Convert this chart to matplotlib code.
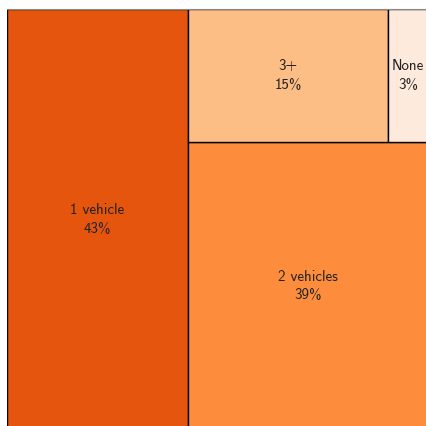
import matplotlib
matplotlib.use("Agg")
import matplotlib.pyplot as plt
from matplotlib.patches import Rectangle

labels = ["1 vehicle", "2 vehicles", "3+", "None"]
values = [43, 39, 15, 3]
colors = ["#e6550d", "#fd8d3c", "#fdbe85", "#feeadc"]

fig = plt.figure(figsize=(4.27, 4.26), dpi=100)
ax = fig.add_axes([7/427, -4/426, 421/427, 421/426])
ax.set_xlim(0, 1)
ax.set_ylim(0, 1)
for s in ["left", "right", "bottom"]:
    ax.spines[s].set_visible(False)
ax.spines["top"].set_color("#888888")
ax.set_xticks([])
ax.set_yticks([])

total = sum(values)
# layout: first item is a full-height column, remaining split into top row and bottom block
w0 = values[0] / total
rest = total - values[0]
top = values[2] + values[3]
h_top = top / rest
rects = []
rects.append((0, 0, w0, 1))
rects.append((w0, 0, 1 - w0, 1 - h_top))
w2 = (1 - w0) * values[2] / top
rects.append((w0, 1 - h_top, w2, h_top))
rects.append((w0 + w2, 1 - h_top, (1 - w0) - w2, h_top))

for (x, y, w, h), lab, v, c in zip(rects, labels, values, colors):
    ax.add_patch(Rectangle((x, y), w, h, facecolor=c, edgecolor="black", linewidth=1))
    ax.text(x + w/2, y + h/2, f"{lab}\n{v}%", ha="center", va="center",
            fontsize=10.8, family="cmss10", color="#222222", linespacing=1.4)

fig.savefig("out.png", dpi=100)
